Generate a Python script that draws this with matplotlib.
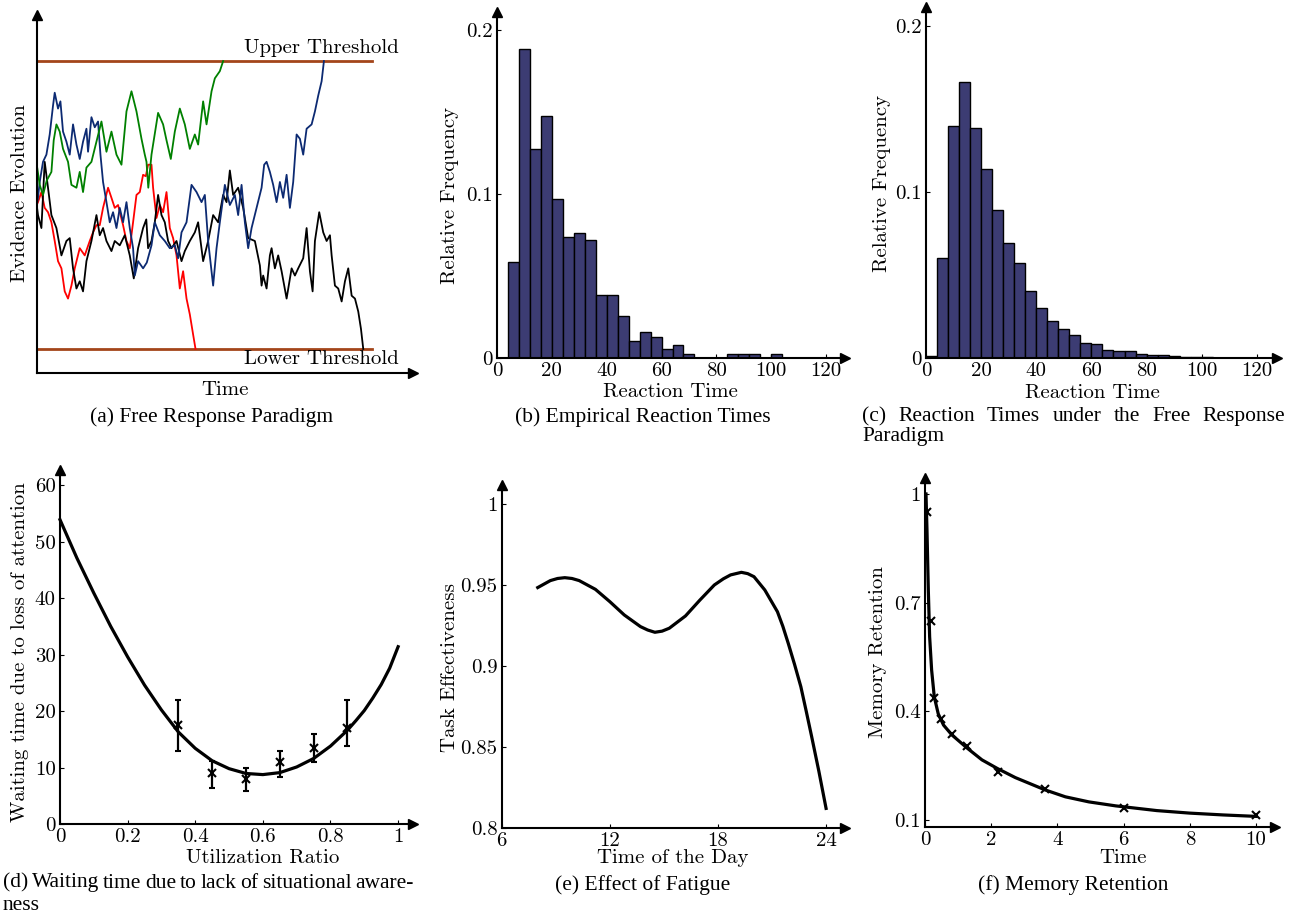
import matplotlib
matplotlib.use("Agg")
import matplotlib.pyplot as plt

W, H = 1293, 916
plt.rcParams['font.family'] = 'cmr10'
plt.rcParams['axes.formatter.use_mathtext'] = True
CAPTION_FONT = 'Liberation Serif'
CAPTION_SIZE = 15.5

# (a) evidence paths, thresholds at +1 / -1
green_t = [0, 0.5, 3, 6.3, 10, 14.7, 17, 19.7, 23, 26.3, 31.3, 34.7, 39.7, 43, 46.3, 49.7, 54.7, 59.7, 64.7, 69.7,
           74.7, 79.7, 84.7, 89.7, 94.7, 99.7, 104.7, 108, 109.7, 111.5, 114.7, 121.3, 126.3, 129.7, 134, 138, 143,
           148, 153, 158, 161.3, 166.3, 169.7, 174.7, 178, 183, 186.3]
green_e = [0, 0.26, 0.14, 0.07, 0.17, 0.23, 0.45, 0.56, 0.51, 0.39, 0.30, 0.14, 0.12, 0.23, 0.09, 0.26, 0.30, 0.44,
           0.58, 0.37, 0.51, 0.35, 0.28, 0.65, 0.79, 0.65, 0.46, 0.35, 0.30, 0.12, 0.35, 0.64, 0.56, 0.45, 0.32, 0.51,
           0.67, 0.56, 0.39, 0.49, 0.42, 0.72, 0.56, 0.79, 0.88, 0.93, 1.0]
blue_t = [0, 1.3, 3, 6.3, 9.7, 13, 16.3, 18, 21.3, 23.7, 26.3, 29.7, 33, 36.3, 39.7, 43, 46.3, 49.7, 51.3, 54.7, 58,
          61.3, 63.7, 66.3, 69.7, 73, 76.3, 79.7, 83, 86.3, 89.7, 93, 96.3, 98, 101.3, 106.3, 110, 114.7, 118, 123,
          128, 133, 138, 141.3, 144.7, 149.7, 154.7, 159.7, 164.7, 168, 171.3, 176.3, 179.7, 183, 188, 193, 198,
          201.3, 204.7, 208, 211.3, 214.7, 219.7, 224.7, 227.3, 229.7, 233, 236.3, 239.7, 243, 246.3, 249.7, 253,
          256.3, 259.7, 263, 266.3, 269.7, 274.7, 278, 281.3, 284.7, 287]
blue_e = [0, 0.05, 0.16, 0.30, 0.35, 0.49, 0.69, 0.78, 0.67, 0.72, 0.51, 0.44, 0.35, 0.56, 0.42, 0.32, 0.44, 0.53,
          0.37, 0.61, 0.54, 0.58, 0.35, 0.16, 0.02, -0.12, -0.05, -0.16, -0.02, -0.12, 0.02, -0.16, -0.30, -0.49,
          -0.39, -0.44, -0.40, -0.28, -0.12, -0.21, -0.25, -0.30, -0.28, -0.37, -0.19, -0.12, 0.14, 0.09, 0.02,
          0.07, -0.25, -0.56, -0.30, -0.12, 0.14, 0.0, 0.07, -0.07, 0.14, -0.12, -0.30, -0.16, -0.02, 0.12, 0.28,
          0.30, 0.23, 0.14, 0.02, 0.16, 0.05, 0.21, -0.02, 0.16, 0.49, 0.46, 0.35, 0.53, 0.56, 0.65, 0.76, 0.86, 1.0]
black_t = [0, 1.3, 4.7, 8, 11.3, 14.7, 19.7, 24.7, 29.7, 33, 36.3, 39.7, 43, 46.3, 49.7, 54.7, 59.7, 63, 66.3, 69.7,
           74.7, 78, 83, 88, 93, 97, 101.3, 106.3, 109.5, 111.3, 114.7, 118, 121.3, 124.7, 128, 131.3, 134.7, 139.7,
           144.7, 148, 153, 158, 161.3, 166.3, 171.3, 176.3, 181.3, 186.3, 189.7, 193, 196.3, 201.3, 206.3, 211.3,
           218, 223, 224.7, 226.3, 229.7, 233, 234.7, 238, 241.3, 244.7, 249.7, 254.7, 258, 261.3, 266.3, 269.7, 273,
           275.7, 278, 282.3, 286.3, 289.7, 293, 294.7, 298, 301.3, 304.7, 308, 311.3, 314.7, 318, 321.3, 324, 326.3]
black_e = [0, -0.07, -0.16, 0.30, 0.12, -0.07, -0.16, -0.35, -0.25, -0.23, -0.44, -0.58, -0.53, -0.60, -0.39, -0.25,
           -0.07, -0.21, -0.16, -0.25, -0.32, -0.25, -0.28, -0.21, -0.35, -0.51, -0.30, -0.16, -0.10, -0.30, -0.25,
           -0.12, 0.07, -0.07, -0.12, -0.25, -0.30, -0.25, -0.39, -0.32, -0.25, -0.19, -0.12, -0.39, -0.25, -0.07,
           -0.12, 0.07, 0.02, 0.24, 0.07, 0.12, -0.02, -0.23, -0.25, -0.42, -0.56, -0.49, -0.58, -0.35, -0.30, -0.44,
           -0.35, -0.46, -0.65, -0.44, -0.49, -0.44, -0.37, -0.16, -0.46, -0.60, -0.25, -0.05, -0.19, -0.25, -0.21,
           -0.35, -0.56, -0.58, -0.67, -0.53, -0.44, -0.63, -0.65, -0.74, -0.86, -1.0]
red_t = [0, 1.3, 4.7, 8, 11.3, 14.7, 18, 21.3, 24.7, 28, 31.3, 34.7, 38, 43, 48, 53, 56.3, 59.7, 63, 66.3, 71.3, 74.7,
         78, 81.3, 86.3, 89.7, 93, 96.3, 99.7, 103, 106.3, 109, 111.3, 114.7, 116.3, 119.7, 123, 126.3, 129.7, 133,
         136.3, 139.7, 143, 146.3, 149.7, 153, 156.3, 158.7]
red_e = [0, 0.02, 0.09, -0.02, -0.05, -0.12, -0.25, -0.39, -0.44, -0.60, -0.65, -0.56, -0.44, -0.30, -0.35, -0.25,
         -0.19, -0.14, -0.14, -0.02, 0.12, 0.05, -0.02, 0.0, -0.14, -0.25, -0.30, -0.12, 0.07, 0.09, 0.21, 0.20, 0.28,
         0.28, 0.12, -0.09, 0.0, -0.05, 0.09, -0.16, -0.23, -0.35, -0.58, -0.46, -0.65, -0.76, -0.90, -1.0]
threshold_end = 335

# (b) empirical histogram, bins of width 4 starting at 4
b_left = list(range(4, 120, 4))
b_freq = [0.0585, 0.1884, 0.1273, 0.1476, 0.0969, 0.0737, 0.0765, 0.0717, 0.0384, 0.0384, 0.0258, 0.0104, 0.0156,
          0.0128, 0.0053, 0.0077, 0.0026, 0, 0, 0, 0.0026, 0.0026, 0.0026, 0, 0.0026, 0, 0, 0, 0]

# (c) model histogram, bins of width 4 starting at 0
c_left = list(range(0, 120, 4))
c_freq = [0.0014, 0.0603, 0.1397, 0.1662, 0.1387, 0.1140, 0.0894, 0.0693, 0.0573, 0.0406, 0.0302, 0.0225, 0.0175,
          0.0139, 0.0090, 0.0084, 0.0048, 0.0042, 0.0040, 0.0024, 0.0018, 0.0018, 0.0012, 0.0008, 0.0005, 0.0004,
          0.0003, 0.0003, 0.0002, 0.0002]

# (d) waiting time vs utilization
d_fit_x = [0, 0.05, 0.1, 0.15, 0.2, 0.25, 0.3, 0.35, 0.4, 0.45, 0.5, 0.55, 0.6, 0.65, 0.7, 0.75, 0.8, 0.85, 0.875,
           0.9, 0.925, 0.95, 0.975, 1.0]
d_fit_y = [53.9, 47.1, 40.9, 35.0, 29.6, 24.6, 20.2, 16.3, 13.4, 11.2, 9.8, 8.95, 8.75, 9.1, 10.1, 11.6, 13.8, 16.6,
           18.3, 20.1, 22.3, 24.7, 27.6, 31.4]
d_x = [0.35, 0.45, 0.55, 0.65, 0.75, 0.85]
d_y = [17.5, 9.0, 7.9, 11.0, 13.4, 17.0]
d_low = [12.9, 6.4, 5.9, 8.4, 10.9, 13.9]
d_high = [22.0, 11.2, 10.0, 12.9, 15.9, 22.0]

# (e) fatigue
e_hour = [8.0, 8.7, 9.1, 9.5, 9.9, 10.3, 11.2, 12.0, 12.8, 13.7, 14.1, 14.5, 14.9, 15.3, 16.2, 17.0, 17.8, 18.3,
          18.7, 19.3, 19.65, 20.0, 20.6, 21.3, 21.6, 21.9, 22.25, 22.6, 22.9, 23.2, 23.6, 24.0]
e_eff = [0.9484, 0.9527, 0.9540, 0.9545, 0.9540, 0.9527, 0.9473, 0.9397, 0.9315, 0.9243, 0.9222, 0.9208, 0.9215,
         0.9233, 0.9309, 0.9407, 0.9500, 0.9538, 0.9562, 0.9578, 0.9570, 0.9551, 0.9469, 0.9335, 0.9245, 0.9140,
         0.9010, 0.8872, 0.8720, 0.8564, 0.8350, 0.8121]

# (f) memory retention
f_fit_t = [0.03, 0.06, 0.10, 0.14, 0.2, 0.28, 0.4, 0.56, 0.81, 1.28, 1.72, 2.19, 2.73, 3.63, 4.24, 4.95, 5.76, 7, 8,
           9, 10]
f_fit_r = [1.0, 0.90, 0.735, 0.606, 0.514, 0.44, 0.393, 0.362, 0.335, 0.298, 0.266, 0.242, 0.217, 0.183, 0.164,
           0.150, 0.139, 0.126, 0.119, 0.114, 0.110]
f_t = [0.07, 0.17, 0.28, 0.47, 0.81, 1.28, 2.19, 3.63, 6.02, 10]
f_r = [0.95, 0.65, 0.436, 0.379, 0.337, 0.303, 0.232, 0.185, 0.134, 0.113]

BAR = '#3c3c73'
BROWN = '#a3451a'


def px_axes(fig, box):
    x0, y0, x1, y1 = box
    return fig.add_axes([x0 / W, 1 - y1 / H, (x1 - x0) / W, (y1 - y0) / H])


def arrowed(ax):
    for side in ['top', 'right']:
        ax.spines[side].set_visible(False)
    for side in ['left', 'bottom']:
        ax.spines[side].set_linewidth(1.5)
    ax.plot(1, 0, '>k', ms=7, transform=ax.transAxes, clip_on=False)
    ax.plot(0, 1, '^k', ms=7, transform=ax.transAxes, clip_on=False)
    ax.tick_params(direction='in', length=3, width=0.8, labelsize=15, pad=3)


def put_labels(ax, box, xlabel, xpos, ylabel, ypos):
    x0, y0, x1, y1 = box
    ax.set_xlabel(xlabel, fontsize=15, va='center')
    ax.xaxis.set_label_coords((xpos[0] - x0) / (x1 - x0), (y1 - xpos[1]) / (y1 - y0))
    ax.set_ylabel(ylabel, fontsize=15, va='center')
    ax.yaxis.set_label_coords((ypos[0] - x0) / (x1 - x0), (y1 - ypos[1]) / (y1 - y0))


def caption(fig, text, x, y, ha='center'):
    fig.text(x / W, 1 - y / H, text, ha=ha, va='center', fontsize=CAPTION_SIZE, family=CAPTION_FONT)


def justified(fig, words, x0, x1, y):
    r = fig.canvas.get_renderer()
    texts = [fig.text(0, 1 - y / H, w, ha='left', va='center', fontsize=CAPTION_SIZE, family=CAPTION_FONT)
             for w in words]
    widths = [t.get_window_extent(r).width for t in texts]
    gap = max((x1 - x0 - sum(widths)) / (len(words) - 1), 3)
    x = x0
    for t, w in zip(texts, widths):
        t.set_x(x / W)
        x += w + gap


fig = plt.figure(figsize=(W / 100, H / 100), dpi=100)

# (a)
box_a = (36.7, 15, 413, 373)
ax = px_axes(fig, box_a)
arrowed(ax)
ax.set_xlim(0, 376)
ax.set_ylim(-1.167, 1.32)
ax.set_xticks([])
ax.set_yticks([])
ax.plot([0, threshold_end], [1, 1], color=BROWN, lw=2)
ax.plot([0, threshold_end], [-1, -1], color=BROWN, lw=2)
ax.plot(red_t, red_e, color='#ff0000', lw=1.3)
ax.plot(black_t, black_e, color='k', lw=1.3)
ax.plot(blue_t, blue_e, color='#0c2a72', lw=1.3)
ax.plot(green_t, green_e, color='#008000', lw=1.3)
ax.text(362, 1.09, 'Upper Threshold', ha='right', va='center', fontsize=15)
ax.text(362, -1.07, 'Lower Threshold', ha='right', va='center', fontsize=15)
put_labels(ax, box_a, 'Time', (225, 390), 'Evidence Evolution', (20, 193))
caption(fig, '(a) Free Response Paradigm', 212, 417)

# (b)
box_b = (497, 12, 845, 358)
ax = px_axes(fig, box_b)
ax.bar(b_left, b_freq, width=4, align='edge', color=BAR, edgecolor='k', lw=1, zorder=2)
arrowed(ax)
ax.set_xlim(0, 126.9)
ax.set_ylim(0, 0.211)
ax.set_xticks([0, 20, 40, 60, 80, 100, 120])
ax.set_xticklabels(['0', '20', '40', '60', '80', '100', '120'])
ax.set_yticks([0, 0.1, 0.2])
ax.set_yticklabels(['0', '0.1', '0.2'])
put_labels(ax, box_b, 'Reaction Time', (670, 392), 'Relative Frequency', (450, 195))
caption(fig, '(b) Empirical Reaction Times', 643, 417)

# (c)
box_c = (926, 7, 1277, 358)
ax = px_axes(fig, box_c)
ax.bar(c_left, c_freq, width=4, align='edge', color=BAR, edgecolor='k', lw=1, zorder=2)
arrowed(ax)
ax.set_xlim(0, 127.3)
ax.set_ylim(0, 0.2117)
ax.set_xticks([0, 20, 40, 60, 80, 100, 120])
ax.set_xticklabels(['0', '20', '40', '60', '80', '100', '120'])
ax.set_yticks([0, 0.1, 0.2])
ax.set_yticklabels(['0', '0.1', '0.2'])
put_labels(ax, box_c, 'Reaction Time', (1092, 393), 'Relative Frequency', (882, 183))
justified(fig, ['(c)', 'Reaction', 'Times', 'under', 'the', 'Free', 'Response'], 862, 1285, 417)
caption(fig, 'Paradigm', 862, 437, ha='left')

# (d)
box_d = (60, 470, 413, 824)
ax = px_axes(fig, box_d)
arrowed(ax)
ax.plot(d_fit_x, d_fit_y, color='k', lw=2.3, clip_on=False)
yerr = [[y - lo for y, lo in zip(d_y, d_low)], [hi - y for y, hi in zip(d_y, d_high)]]
ax.errorbar(d_x, d_y, yerr=yerr, fmt='x', color='k', ms=6, mew=1.5, elinewidth=1.6, capsize=2, capthick=1.2)
ax.set_xlim(0, 1.044)
ax.set_ylim(0, 62.7)
ax.set_xticks([0, 0.2, 0.4, 0.6, 0.8, 1])
ax.set_xticklabels(['0', '0.2', '0.4', '0.6', '0.8', '1'])
ax.set_yticks([0, 10, 20, 30, 40, 50, 60])
ax.set_yticklabels(['0', '10', '20', '30', '40', '50', '60'])
put_labels(ax, box_d, 'Utilization Ratio', (263, 858), 'Waiting time due to loss of attention', (20, 652))
justified(fig, ['(d)', 'Waiting', 'time', 'due', 'to', 'lack', 'of', 'situational', 'aware-'], 3, 414, 883)
caption(fig, 'ness', 3, 906, ha='left')

# (e)
box_e = (501.7, 485, 845, 828)
ax = px_axes(fig, box_e)
arrowed(ax)
ax.plot(e_hour, e_eff, color='k', lw=2.3)
ax.set_xlim(6, 25.05)
ax.set_ylim(0.8, 1.0117)
ax.set_xticks([6, 12, 18, 24])
ax.set_xticklabels(['6', '12', '18', '24'])
ax.set_yticks([0.8, 0.85, 0.9, 0.95, 1])
ax.set_yticklabels(['0.8', '0.85', '0.9', '0.95', '1'])
put_labels(ax, box_e, 'Time of the Day', (673, 858), 'Task Effectiveness', (450, 667))
caption(fig, '(e) Effect of Fatigue', 643, 885)

# (f)
box_f = (925, 478, 1275, 827)
ax = px_axes(fig, box_f)
arrowed(ax)
ax.plot(f_fit_t, f_fit_r, color='k', lw=2.3)
ax.plot(f_t, f_r, 'x', color='k', ms=6, mew=1.5)
ax.set_xlim(0, 10.57)
ax.set_ylim(0.0807, 1.044)
ax.set_xticks([0, 2, 4, 6, 8, 10])
ax.set_xticklabels(['0', '2', '4', '6', '8', '10'])
ax.set_yticks([0.1, 0.4, 0.7, 1])
ax.set_yticklabels(['0.1', '0.4', '0.7', '1'])
put_labels(ax, box_f, 'Time', (1123, 858), 'Memory Retention', (878, 652))
caption(fig, '(f) Memory Retention', 1073, 885)

fig.savefig('out.png', dpi=100)
